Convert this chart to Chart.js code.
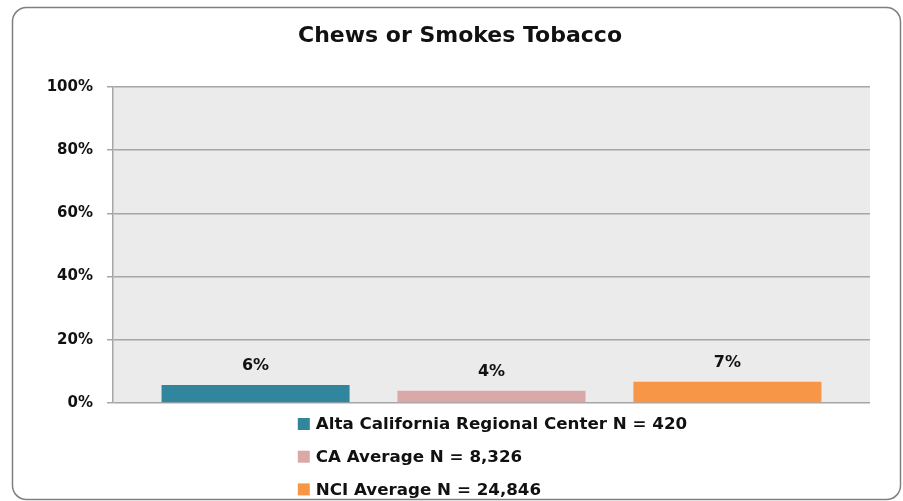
<!DOCTYPE html>
<html>
<head>
<meta charset="utf-8">
<script src="https://cdn.jsdelivr.net/npm/chart.js@4"></script>
<style>
  body { margin: 0; background: #ffffff; }
  canvas { display: block; }
</style>
</head>
<body>
<canvas id="myChart" width="903" height="501"></canvas>
<script>
const chartTitle = 'Chews or Smokes Tobacco';
const categories = [''];
const seriesLabels = ['Alta California Regional Center N = 420', 'CA Average N = 8,326', 'NCI Average N = 24,846'];
const seriesValues = [5.7, 3.9, 6.7];
const seriesColors = ['#31859C', '#D9A8A8', '#F79646'];
const yTicks = [0, 20, 40, 60, 80, 100];

const fontFamily = '"DejaVu Sans", sans-serif';

// plot background + outer rounded frame
const frame = {
    id: 'frame',
    beforeDraw(chart) {
        const { ctx, chartArea } = chart;
        ctx.save();
        ctx.fillStyle = '#ffffff';
        ctx.fillRect(0, 0, chart.width, chart.height);
        ctx.beginPath();
        ctx.roundRect(12.5, 7.5, 888, 492, 14);
        ctx.strokeStyle = '#7f7f7f';
        ctx.lineWidth = 1.5;
        ctx.stroke();
        ctx.fillStyle = '#ebebeb';
        ctx.fillRect(chartArea.left, chartArea.top, chartArea.right - chartArea.left, chartArea.bottom - chartArea.top);
        ctx.restore();
    }
};

// value labels over the bars
const valueLabels = {
    id: 'valueLabels',
    afterDatasetsDraw(chart) {
        const { ctx } = chart;
        ctx.save();
        ctx.font = 'bold 16px ' + fontFamily;
        ctx.fillStyle = '#111111';
        ctx.textAlign = 'center';
        ctx.textBaseline = 'middle';
        chart.data.datasets.forEach((ds, i) => {
            const bar = chart.getDatasetMeta(i).data[0];
            ctx.fillText(Math.round(ds.data[0]) + '%', bar.x, bar.y - 19);
        });
        ctx.restore();
    }
};

// legend stacked under the plot, one item per row
const stackedLegend = {
    id: 'stackedLegend',
    afterDraw(chart) {
        const { ctx, chartArea } = chart;
        ctx.save();
        ctx.font = 'bold 16.7px ' + fontFamily;
        ctx.textBaseline = 'middle';
        const box = 12, gap = 6;
        const widest = Math.max(...chart.data.datasets.map(ds => ctx.measureText(ds.label).width));
        const left = (chartArea.left + chartArea.right) / 2 + 1 - (box + gap + widest) / 2;
        chart.data.datasets.forEach((ds, i) => {
            const y = chartArea.bottom + 21 + i * 32.7;
            ctx.fillStyle = ds.backgroundColor;
            ctx.fillRect(left, y - box / 2, box, box);
            ctx.fillStyle = '#111111';
            ctx.fillText(ds.label, left + box + gap, y + 1);
        });
        ctx.restore();
    }
};

const ctx = document.getElementById('myChart').getContext('2d');

const config = {
    type: 'bar',
    data: {
        labels: categories,
        datasets: seriesLabels.map((label, i) => ({
            label: label,
            data: [seriesValues[i]],
            backgroundColor: seriesColors[i],
            barPercentage: 0.797,
            categoryPercentage: 0.935
        }))
    },
    options: {
        responsive: false,
        animation: false,
        layout: {
            padding: { left: 36, right: 19, top: 0, bottom: 98 }
        },
        scales: {
            x: {
                display: false
            },
            y: {
                min: 0,
                max: 100,
                afterBuildTicks(scale) {
                    scale.ticks = yTicks.map(v => ({ value: v }));
                },
                afterFit(scale) {
                    scale.width = 77;
                },
                grid: {
                    color: '#a6a6a6',
                    lineWidth: 1.5,
                    tickLength: 6
                },
                border: {
                    color: '#a6a6a6',
                    width: 1.5
                },
                ticks: {
                    padding: 14,
                    color: '#111111',
                    font: { family: fontFamily, size: 15, weight: 'bold' },
                    callback: (v) => v + '%'
                }
            },
            // empty right-hand spacer so the title centres like the original
            spacer: {
                type: 'linear',
                position: 'right',
                display: true,
                grid: { display: false },
                border: { display: false },
                ticks: { display: false },
                afterFit(scale) {
                    scale.width = 14;
                }
            }
        },
        plugins: {
            title: {
                display: true,
                text: chartTitle,
                color: '#111111',
                font: { family: fontFamily, size: 22, weight: 'bold' },
                padding: { top: 23, bottom: 37.6 }
            },
            legend: {
                display: false
            },
            tooltip: {
                enabled: false
            }
        }
    },
    plugins: [frame, valueLabels, stackedLegend]
};

let myChart = new Chart(ctx, config);
</script>
</body>
</html>
